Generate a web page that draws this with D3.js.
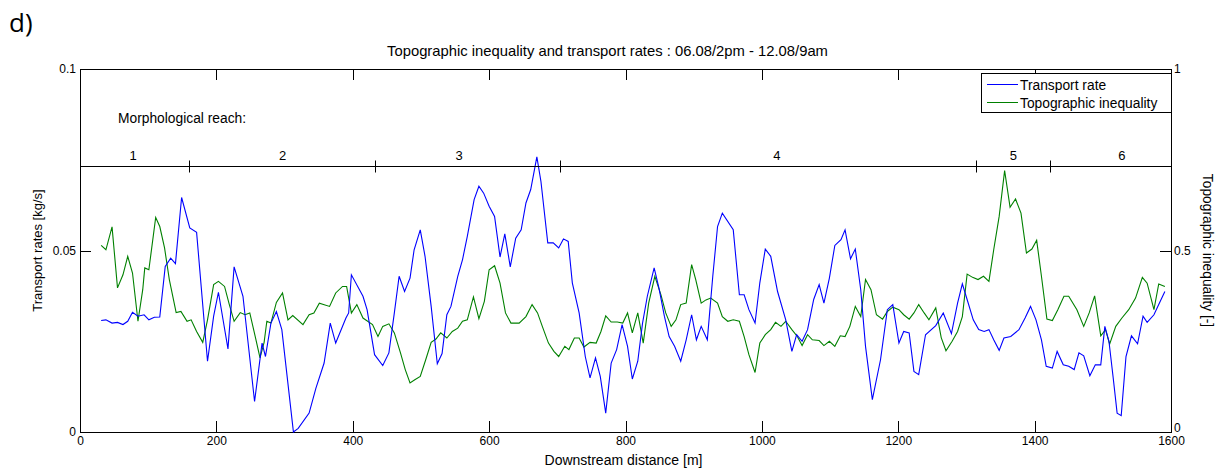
<!DOCTYPE html>
<html><head><meta charset="utf-8">
<script src="https://cdn.jsdelivr.net/npm/d3@7"></script>
<style>
html,body{margin:0;padding:0;background:#fff;}
svg{display:block;font-family:"Liberation Sans",Arial,sans-serif;}
</style></head>
<body>
<svg id="chart" width="1218" height="470"></svg>
<script>
// ---- data ----
const xTicks = [0,200,400,600,800,1000,1200,1400,1600];
const leftTicks = [0,0.05,0.1];
const rightTicks = [0,0.5,1];
const reachNames = ["1","2","3","4","5","6"];
const reachBounds = [160,433,704,1314,1423];
const reachLabelPos = [78,297,556,1022,1369,1528];

const transportX = [31,38,47,55,63,70,77,85,94,101,109,117,125,133,140,149,161,171,187,196,203,217,226,239,256,267,272,280,288,296,313,320,336,346,358,367,375,390,394,398,415,421,432,444,453,461,468,476,484,490,499,506,515,524,531,538,544,554,561,568,578,585,592,600,608,616,623,631,639,647,654,661,670,676,686,694,702,709,716,722,732,741,748,756,763,771,779,787,795,803,810,818,825,832,842,849,857,864,872,881,889,897,904,911,920,928,935,942,958,967,974,981,990,997,1005,1013,1023,1035,1044,1051,1059,1067,1076,1084,1091,1099,1107,1116,1122,1130,1137,1145,1152,1162,1174,1184,1192,1201,1208,1216,1223,1230,1240,1255,1266,1278,1287,1294,1301,1310,1318,1326,1333,1340,1348,1355,1365,1377,1386,1394,1402,1410,1417,1426,1433,1442,1450,1458,1465,1472,1481,1489,1497,1503,1509,1515,1521,1527,1534,1542,1551,1559,1565,1575,1582,1591];
const transportRate = [0.0307,0.0309,0.0300,0.0302,0.0296,0.0305,0.0330,0.0319,0.0323,0.0309,0.0316,0.0317,0.0456,0.0479,0.0464,0.0646,0.0562,0.0550,0.0195,0.0319,0.0385,0.0229,0.0455,0.0374,0.0084,0.0245,0.0208,0.0300,0.0332,0.0282,0.0,0.001,0.0052,0.0121,0.0190,0.0300,0.0245,0.0314,0.0328,0.0433,0.0374,0.0337,0.0213,0.0183,0.0218,0.0328,0.0429,0.0387,0.0424,0.0502,0.0557,0.0484,0.0346,0.0188,0.0216,0.0323,0.0346,0.0429,0.0475,0.0539,0.0640,0.0677,0.0658,0.0622,0.0594,0.0482,0.0546,0.0455,0.0534,0.0557,0.0631,0.0668,0.0758,0.0690,0.0521,0.0521,0.0507,0.0532,0.0525,0.0411,0.0328,0.0208,0.0149,0.0204,0.0153,0.0052,0.0190,0.0227,0.0296,0.0236,0.0146,0.0195,0.0300,0.0374,0.0452,0.0397,0.0319,0.0263,0.0236,0.0195,0.0254,0.0323,0.0254,0.0291,0.0254,0.0429,0.0566,0.0603,0.0557,0.0378,0.0378,0.0337,0.0300,0.0411,0.0504,0.0484,0.0387,0.0309,0.0222,0.0268,0.0250,0.0282,0.0365,0.0406,0.0355,0.0424,0.0514,0.0530,0.0557,0.0477,0.0504,0.0392,0.0236,0.0089,0.0199,0.0337,0.0351,0.0245,0.0277,0.0273,0.0167,0.0158,0.0268,0.0293,0.0328,0.0271,0.0355,0.0408,0.0365,0.0309,0.0282,0.0277,0.0282,0.0254,0.0225,0.0259,0.0263,0.0282,0.0314,0.0346,0.0309,0.0254,0.0181,0.0176,0.0222,0.0185,0.0181,0.0172,0.0218,0.0210,0.0155,0.0185,0.0185,0.0291,0.0250,0.0153,0.0052,0.0045,0.0208,0.0265,0.0243,0.0319,0.0302,0.0323,0.0351,0.0387];

const inequalityX = [31,38,47,55,63,70,77,85,92,95,101,111,117,124,131,141,148,157,163,171,180,187,196,203,212,219,226,235,242,249,257,264,270,274,280,288,297,305,312,327,336,343,351,366,375,385,391,398,406,415,429,437,444,453,461,470,477,484,491,499,507,515,522,529,538,546,554,561,568,577,585,593,600,608,616,624,632,644,654,663,671,678,687,695,702,711,717,725,732,739,748,757,764,771,779,788,796,803,810,818,826,834,843,852,859,867,874,881,889,897,903,911,918,925,935,942,950,958,967,974,981,990,997,1005,1013,1020,1028,1035,1044,1052,1059,1067,1074,1084,1091,1099,1107,1115,1122,1129,1137,1145,1152,1160,1168,1177,1184,1192,1201,1208,1216,1223,1230,1238,1245,1255,1263,1270,1279,1287,1294,1301,1309,1317,1325,1333,1340,1348,1356,1364,1372,1380,1388,1396,1403,1410,1418,1426,1434,1443,1450,1462,1472,1480,1488,1497,1504,1510,1519,1528,1538,1548,1558,1565,1575,1582,1591];
const topoInequality = [0.514,0.502,0.565,0.397,0.433,0.484,0.438,0.305,0.392,0.452,0.447,0.591,0.566,0.507,0.420,0.329,0.332,0.305,0.309,0.277,0.247,0.309,0.406,0.415,0.401,0.351,0.305,0.329,0.323,0.328,0.263,0.204,0.247,0.305,0.300,0.357,0.383,0.309,0.321,0.296,0.323,0.328,0.355,0.346,0.383,0.401,0.401,0.328,0.351,0.314,0.296,0.263,0.291,0.298,0.273,0.218,0.172,0.135,0.144,0.153,0.199,0.247,0.256,0.273,0.259,0.277,0.286,0.305,0.309,0.372,0.312,0.360,0.447,0.458,0.410,0.328,0.300,0.300,0.318,0.351,0.328,0.291,0.245,0.222,0.208,0.236,0.227,0.259,0.259,0.234,0.247,0.245,0.277,0.320,0.303,0.303,0.300,0.328,0.273,0.328,0.245,0.355,0.429,0.378,0.328,0.291,0.309,0.351,0.355,0.461,0.420,0.355,0.364,0.369,0.355,0.318,0.305,0.309,0.305,0.263,0.213,0.164,0.245,0.268,0.282,0.302,0.291,0.305,0.282,0.263,0.238,0.268,0.254,0.252,0.238,0.250,0.236,0.265,0.263,0.291,0.346,0.318,0.420,0.392,0.323,0.311,0.332,0.344,0.337,0.323,0.311,0.328,0.351,0.328,0.309,0.342,0.260,0.224,0.250,0.277,0.318,0.435,0.426,0.420,0.429,0.415,0.502,0.594,0.720,0.619,0.642,0.603,0.493,0.504,0.528,0.429,0.311,0.307,0.337,0.374,0.374,0.337,0.291,0.328,0.375,0.265,0.282,0.242,0.291,0.314,0.337,0.369,0.426,0.410,0.337,0.408,0.401];

// ---- layout ----
const L = 80, R = 1171, T = 69, B = 432;
const svg = d3.select("#chart");
const x = d3.scaleLinear().domain([0,1600]).range([L,R]);
const yL = d3.scaleLinear().domain([0,0.1]).range([B,T]);
const yR = d3.scaleLinear().domain([0,1]).range([B,T]);

const fmt = d => String(d);
function styleAxis(g){
  g.select(".domain").remove();
  g.selectAll("line").attr("stroke","#000").attr("shape-rendering","crispEdges");
  g.selectAll("text").attr("fill","#000").style("font-size","12px").style("font-family","'Liberation Sans',Arial,sans-serif");
}

svg.append("g").attr("transform",`translate(0,${B})`)
  .call(d3.axisBottom(x).tickValues(xTicks).tickFormat(fmt).tickSizeInner(-11).tickSizeOuter(0).tickPadding(4))
  .call(styleAxis);
svg.append("g").attr("transform",`translate(0,${T})`)
  .call(d3.axisTop(x).tickValues(xTicks).tickFormat("").tickSizeInner(-11).tickSizeOuter(0))
  .call(styleAxis);
svg.append("g").attr("transform",`translate(${L},0)`)
  .call(d3.axisLeft(yL).tickValues(leftTicks).tickFormat(fmt).tickSizeInner(-11).tickSizeOuter(0).tickPadding(4))
  .call(styleAxis);
const rAxis = svg.append("g").attr("transform",`translate(${R},0)`)
  .call(d3.axisRight(yR).tickValues(rightTicks).tickFormat(fmt).tickSizeInner(-11).tickSizeOuter(0).tickPadding(3))
  .call(styleAxis);
// nudge the bottom-right "0" up slightly so it does not collide with "1600"
rAxis.selectAll(".tick").filter(d=>d===0).select("text").attr("dy","-0.05em");

// frame
svg.append("rect").attr("x",L+0.5).attr("y",T+0.5).attr("width",R-L).attr("height",B-T)
  .attr("fill","none").attr("stroke","#000").attr("stroke-width",1);

// clip
svg.append("clipPath").attr("id","clip").append("rect").attr("x",L).attr("y",T).attr("width",R-L+1).attr("height",B-T+1);

const tData = transportX.map((d,i)=>[d,transportRate[i]]);
const gData = inequalityX.map((d,i)=>[d,topoInequality[i]]);
const plot = svg.append("g").attr("clip-path","url(#clip)");
plot.append("path").datum(gData)
  .attr("d", d3.line().x(d=>x(d[0])).y(d=>yR(d[1])))
  .attr("fill","none").attr("stroke","#008000").attr("stroke-width",1.1);
plot.append("path").datum(tData)
  .attr("d", d3.line().x(d=>x(d[0])).y(d=>yL(d[1])))
  .attr("fill","none").attr("stroke","#0000ff").attr("stroke-width",1.1);

// morphological reach bar
const reachY = 166.5;
svg.append("line").attr("x1",L).attr("x2",R).attr("y1",reachY).attr("y2",reachY)
  .attr("stroke","#000").attr("stroke-width",1);
svg.selectAll(".rb").data(reachBounds).enter().append("line")
  .attr("x1",d=>Math.round(x(d))+0.5).attr("x2",d=>Math.round(x(d))+0.5)
  .attr("y1",reachY-6).attr("y2",reachY+6).attr("stroke","#000");
svg.selectAll(".rl").data(reachNames).enter().append("text")
  .attr("x",(d,i)=>x(reachLabelPos[i])).attr("y",160)
  .attr("text-anchor","middle").style("font-size","13px").text(d=>d);
svg.append("text").attr("x",118).attr("y",123).style("font-size","13.8px").text("Morphological reach:");

// legend
const lg = svg.append("g");
lg.append("rect").attr("x",981.5).attr("y",73.5).attr("width",R-981).attr("height",39)
  .attr("fill","#fff").attr("stroke","#000");
const legendItems = [["Transport rate","#0000ff"],["Topographic inequality","#008000"]];
legendItems.forEach((it,i)=>{
  const yy = 84.5 + i*18;
  lg.append("line").attr("x1",987).attr("x2",1018).attr("y1",yy).attr("y2",yy).attr("stroke",it[1]);
  lg.append("text").attr("x",1020).attr("y",yy+5).style("font-size","13.8px").text(it[0]);
});

// titles
svg.append("text").attr("x",(L+R)/2-18).attr("y",56).attr("text-anchor","middle")
  .style("font-size","14.8px").text("Topographic inequality and transport rates : 06.08/2pm - 12.08/9am");
svg.append("text").attr("x",(L+R)/2-2).attr("y",465).attr("text-anchor","middle")
  .style("font-size","14px").text("Downstream distance [m]");
svg.append("text").attr("transform",`translate(42,${(T+B)/2}) rotate(-90)`).attr("text-anchor","middle")
  .style("font-size","13px").text("Transport rates [kg/s]");
svg.append("text").attr("transform",`translate(1203,${(T+B)/2}) rotate(90)`).attr("text-anchor","middle")
  .style("font-size","13.8px").text("Topographic inequality [-]");
svg.append("text").attr("x",9).attr("y",32).style("font-size","26px")
  .style("font-family","'Open Sans','Liberation Sans',sans-serif").text("d)");
</script>
</body></html>
